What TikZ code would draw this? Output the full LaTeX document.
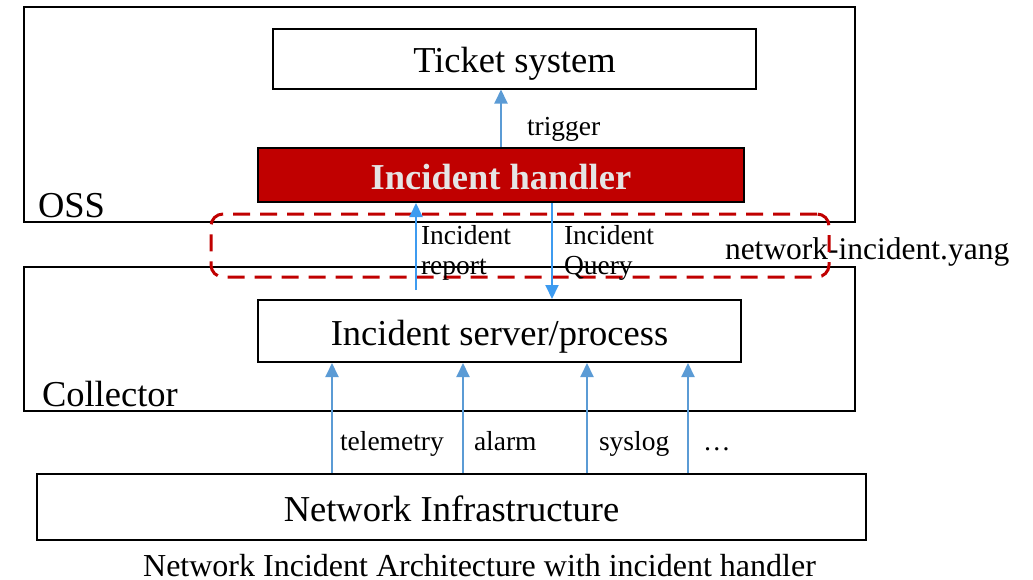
\documentclass[tikz,border=0pt]{standalone}
\usepackage{fontspec}
\setmainfont{Liberation Serif}
\usetikzlibrary{arrows.meta}
\definecolor{handlerred}{HTML}{C00000}
\definecolor{flowblue}{HTML}{5B9BD5}
\definecolor{queryblue}{HTML}{3D9BF0}

\begin{document}
\begin{tikzpicture}[x=1pt, y=-1pt, line width=2pt,
        every node/.append style={inner sep=0pt}]
      \tikzstyle{box} = [draw=black, rectangle, line width=2pt]
      \tikzstyle{bigtext} = [font=\fontsize{36.5}{40}\selectfont]
      \tikzstyle{boxtext} = [bigtext, text height=28pt, text depth=0pt]
      \tikzstyle{smalltext} = [font=\fontsize{27.5}{30}\selectfont, align=left]
      \tikzstyle{flow} = [draw=flowblue, line width=2pt, -{Triangle[width=13pt,length=14pt]}]
      \tikzstyle{query} = [flow, draw=queryblue]
      \useasboundingbox (0,0) rectangle (1033,579);
      % layers
      \node (oss) [box, minimum width=831pt, minimum height=215pt] at (439.5,114.5) {};
      \node (collector) [box, minimum width=831pt, minimum height=144pt] at (439.5,339) {};
      \node [bigtext, anchor=base west] at (37,217) {OSS};
      \node [bigtext, anchor=base west] at (41,406) {Collector};
      % components
      \node (ticket) [box, boxtext, fill=white, minimum width=483pt, minimum height=60pt] at (514.5,58.5) {Ticket system};
      \node (handler) [box, boxtext, fill=handlerred, text=black!10, font=\fontsize{36.5}{40}\selectfont\bfseries,
        minimum width=486pt, minimum height=54pt] at (501,175) {Incident handler};
      \node (server) [box, boxtext, fill=white, minimum width=483pt, minimum height=62pt] at (499.5,331) {Incident server/process};
      \node (infra) [box, boxtext, minimum width=829pt, minimum height=66pt] at (451.5,507) {Network Infrastructure};
      % yang interface
      \node (yanglbl) [font=\fontsize{31.5}{34}\selectfont, anchor=base west] at (724,259) {network-incident.yang};
      \node (yang) [draw=handlerred, line width=3pt, dash pattern=on 17pt off 10pt, rounded corners=12pt,
        minimum width=618pt, minimum height=63pt] at (520,245.5) {};
      % flows
      \coordinate (rep) at (416,0);
      \coordinate (qry) at (552,0);
      \draw [flow] (handler.north) -- (handler.north |- ticket.south);
      \node [smalltext, anchor=base west] at (526,135) {trigger};
      \draw [query, shorten <=9pt] (server.north -| rep) -- (handler.south -| rep);
      \draw [query] (handler.south -| qry) -- (server.north -| qry);
      \node (replbl) [smalltext, anchor=north west] at (420,224) {Incident\\report};
      \node (qrylbl) [smalltext, anchor=north west] at (563,224) {Incident\\Query};
      \foreach \i/\xpos/\lpos/\lbl in {tel/332/339/telemetry, alm/463/473/alarm, sys/587/598/syslog, etc/688/702/…} {
        \coordinate (\i) at (\xpos,0);
        \draw [flow] (infra.north -| \i) -- (server.south -| \i);
        \node [smalltext, anchor=base west] at (\lpos,450) {\lbl};
      }
      \node (caption) [font=\fontsize{32}{34}\selectfont, text depth=0pt, anchor=base] at (479.5,576)
        {Network Incident Architecture with incident handler};
    \end{tikzpicture}
\end{document}
